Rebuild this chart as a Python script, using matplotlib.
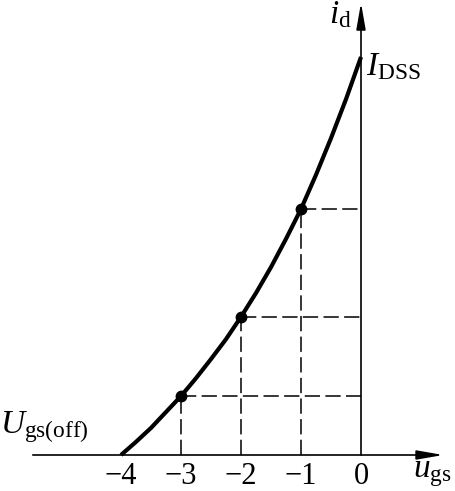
import matplotlib
matplotlib.use("Agg")
import matplotlib.pyplot as plt

plt.rcParams['mathtext.fontset'] = 'custom'
plt.rcParams['mathtext.rm'] = 'Liberation Serif'
plt.rcParams['mathtext.it'] = 'Liberation Serif:italic'
plt.rcParams['font.family'] = ['Liberation Serif', 'DejaVu Serif']

# Transfer characteristic (id normalised to I_DSS = 1)
u_gs = [-4.0, -3.75, -3.5, -3.25, -3.0, -2.75, -2.5, -2.25, -2.0,
        -1.75, -1.5, -1.25, -1.0, -0.75, -0.5, -0.25, 0.0]
i_d = [0.0, 0.033, 0.068, 0.108, 0.148, 0.193, 0.241, 0.291, 0.347,
       0.407, 0.472, 0.543, 0.618, 0.704, 0.796, 0.894, 1.0]

# Marked points
mark_u = [-3, -2, -1]
mark_i = [0.148, 0.347, 0.618]

tick_vals = [-4, -3, -2, -1, 0]
tick_labels = ['\u22124', '\u22123', '\u22122', '\u22121', '0']

W, H = 456, 491
fig = plt.figure(figsize=(W / 100, H / 100), dpi=100)
ax = fig.add_axes([0, 0, 1, 1])
ax.set_xlim(-361 / 60, 95 / 60)
ax.set_ylim(-36 / 398, 455 / 398)
ax.axis('off')


def fx(px):
    return px / W


def fy(py):
    return 1 - py / H


# axes with arrows
arrow = dict(arrowstyle='-|>,head_length=1.6,head_width=0.28', lw=1.2,
             color='black', shrinkA=0, shrinkB=0)
ax.annotate('', xy=(1.37, 0), xytext=(-5.47, 0), arrowprops=arrow)
ax.annotate('', xy=(0, 1.136), xytext=(0, 0), arrowprops=arrow)

# dashed guide lines
for u, i in zip(mark_u, mark_i):
    ax.plot([u, u], [0, i], color='black', lw=1.1, ls=(0, (10, 3.5)))
    ax.plot([u, 0], [i, i], color='black', lw=1.1, ls=(0, (10, 3.5)))

# curve
ax.plot(u_gs, i_d, color='black', lw=3.0, solid_capstyle='butt', zorder=3)
ax.plot(mark_u, mark_i, 'o', color='black', ms=7.5, zorder=4)

# tick labels
for v, lab in zip(tick_vals, tick_labels):
    fig.text(fx(361 + 60 * v), fy(490.5), lab, ha='center', va='bottom',
             fontsize=22, family='Liberation Serif')

# axis labels
fig.text(fx(329), fy(23), r'$i_{\mathrm{d}}$', fontsize=24, va='baseline', ha='left')
fig.text(fx(366), fy(75), r'$I_{\mathrm{DSS}}$', fontsize=24, va='baseline', ha='left')
fig.text(fx(0), fy(433), r'$U_{\mathrm{gs(off)}}$', fontsize=24, va='baseline', ha='left')
fig.text(fx(413), fy(477), r'$u_{\mathrm{gs}}$', fontsize=24, va='baseline', ha='left')

fig.savefig('out.png', dpi=100)
